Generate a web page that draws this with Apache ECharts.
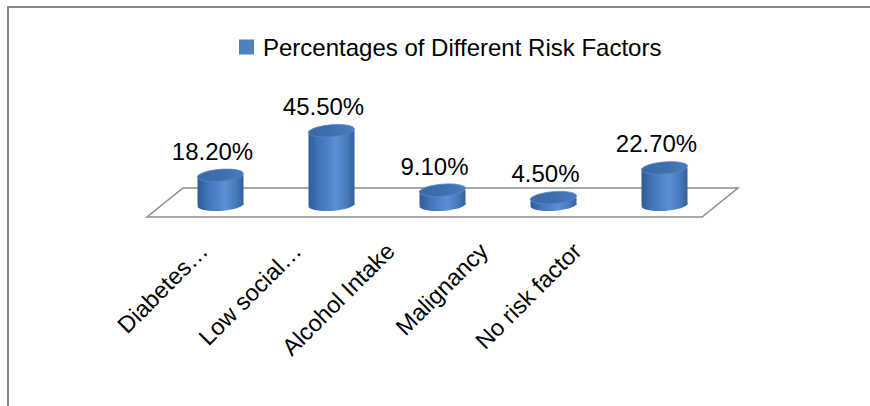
<!DOCTYPE html>
<html>
<head>
<meta charset="utf-8">
<script src="https://cdn.jsdelivr.net/npm/echarts@6/dist/echarts.min.js"></script>
<style>
  html, body { margin: 0; padding: 0; background: #ffffff; }
  #chart { width: 870px; height: 406px; }
</style>
</head>
<body>
<div id="chart"></div>
<script>
const categories = ['Diabetes…', 'Low social…', 'Alcohol Intake', 'Malignancy', 'No risk factor'];
const values = [18.2, 45.5, 9.1, 4.5, 22.7];
const valueLabels = ['18.20%', '45.50%', '9.10%', '4.50%', '22.70%'];
const seriesName = 'Percentages of Different Risk Factors';

const FONT = 'Liberation Sans';
const chart = echarts.init(document.getElementById('chart'), null, { renderer: 'svg' });

const bodyGrad = () => new echarts.graphic.LinearGradient(0, 0, 1, 0, [
  { offset: 0, color: '#2f5c96' },
  { offset: 0.25, color: '#4476b8' },
  { offset: 0.6, color: '#5b90d4' },
  { offset: 0.85, color: '#4677b9' },
  { offset: 1, color: '#335f9b' }
]);
const topGrad = () => new echarts.graphic.LinearGradient(0, 0, 1, 0, [
  { offset: 0, color: '#3a6aa8' },
  { offset: 0.5, color: '#3d6ead' },
  { offset: 1, color: '#4a7dbf' }
]);

function renderBar(params, api) {
  const i = api.value(0);
  const v = api.value(1);
  const base = api.coord([i, 0]);
  const top = api.coord([i, v]);
  const w = 46, rx = w / 2, ry = 6;
  const cx = base[0];
  return {
    type: 'group',
    children: [
      { type: 'ellipse', shape: { cx: cx, cy: base[1], rx: rx, ry: ry },
        rotation: 0.06, originX: cx, originY: base[1],
        style: { fill: bodyGrad() } },
      { type: 'rect', shape: { x: cx - rx, y: top[1], width: w, height: base[1] - top[1] },
        style: { fill: bodyGrad() } },
      { type: 'ellipse', shape: { cx: cx, cy: top[1], rx: rx, ry: ry },
        rotation: 0.08, originX: cx, originY: top[1],
        style: { fill: topGrad(), stroke: '#5485c6', lineWidth: 0.8 } },
      { type: 'text', x: cx - 8, y: top[1] - 24,
        style: { text: valueLabels[i], fill: '#000', font: '24px "' + FONT + '"',
                 align: 'center', verticalAlign: 'middle' } }
    ]
  };
}

function renderFloor(params, api) {
  const band = api.size([1, 0])[0];
  const left = api.coord([0, 0])[0] - band / 2;
  const right = api.coord([categories.length - 1, 0])[0] + band / 2;
  const y0 = api.coord([0, 0])[1];
  const skew = 18;
  return {
    type: 'polygon',
    shape: { points: [
      [left - skew, y0 + 12], [right - skew, y0 + 12],
      [right + skew, y0 - 17], [left + skew, y0 - 17]
    ] },
    style: { fill: 'none', stroke: '#8c8c8c', lineWidth: 1.5 }
  };
}

chart.setOption({
  backgroundColor: '#ffffff',
  animation: false,
  graphic: [{
    type: 'rect', shape: { x: 8, y: 7, width: 900, height: 500 },
    style: { fill: 'none', stroke: '#888888', lineWidth: 2 }, silent: true
  }],
  legend: {
    data: [seriesName],
    left: 234, top: 30,
    itemWidth: 15, itemHeight: 15,
    icon: 'rect',
    textStyle: { fontFamily: FONT, fontSize: 24, color: '#000', padding: [0, 0, 0, 4] }
  },
  grid: [
    { left: 165, right: 150, top: 123.5, bottom: 201 },
    { left: 157, right: 246, top: 150, bottom: 163 }
  ],
  xAxis: [
    { type: 'category', gridIndex: 0, data: categories,
      axisLine: { show: false }, axisTick: { show: false }, axisLabel: { show: false },
      splitLine: { show: false } },
    { type: 'category', gridIndex: 1, data: categories,
      axisLine: { show: false }, axisTick: { show: false }, splitLine: { show: false },
      axisLabel: { rotate: 45, margin: 4, interval: 0, fontFamily: FONT, fontSize: 23.5, color: '#000' } }
  ],
  yAxis: [
    { type: 'value', gridIndex: 0, min: 0, max: 50, show: false },
    { type: 'value', gridIndex: 1, show: false }
  ],
  series: [
    { type: 'custom', name: 'floor', xAxisIndex: 0, yAxisIndex: 0,
      renderItem: renderFloor, data: [[0, 0]], silent: true, z: 1 },
    { type: 'custom', name: seriesName, xAxisIndex: 0, yAxisIndex: 0,
      itemStyle: { color: '#4f81bd' },
      renderItem: renderBar,
      encode: { x: 0, y: 1 },
      data: values.map((v, i) => [i, v]), z: 2 }
  ]
});
</script>
</body>
</html>
